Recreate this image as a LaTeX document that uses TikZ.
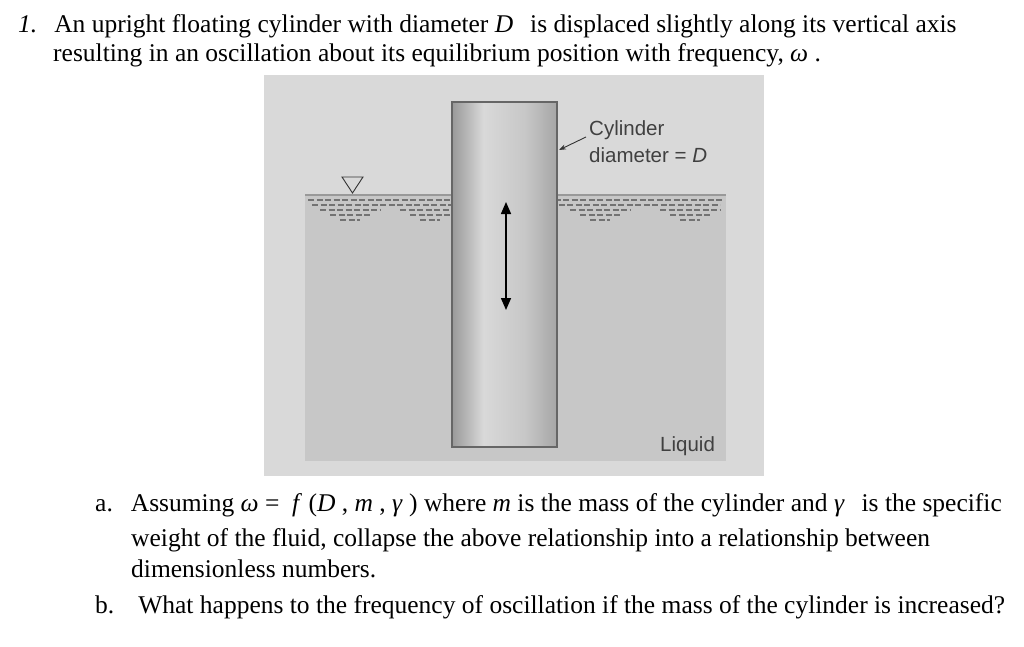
\documentclass[tikz,border=0pt]{standalone}
\usepackage{fontspec}
\setmainfont{Liberation Serif}
\newfontfamily\labfont{Liberation Sans}
\usetikzlibrary{arrows.meta}
\pgfdeclarehorizontalshading{cyl}{100bp}{color(0bp)=(black!45); color(25bp)=(black!40); color(40bp)=(black!15); color(60bp)=(black!22); color(75bp)=(black!35); color(100bp)=(black!50)}
\tikzset{
 qtext/.style={anchor=base west, inner sep=0pt, font=\fontsize{25.5}{28}\selectfont},
 lab/.style={anchor=base west, inner sep=0pt, font=\labfont\fontsize{20.5}{23}\selectfont, text=black!75},
 dsh/.style={black!55, line width=1.3pt, dash pattern=on 6pt off 2.5pt}
}
\begin{document}
\begin{tikzpicture}[x=1pt,y=-1pt]
\useasboundingbox (0,0) rectangle (1024,647);
\fill[white] (0,0) rectangle (1024,647);
% panel
\fill[black!15] (264,75) rectangle (764,476);
\fill[black!22] (305,195) rectangle (726,461);
\draw[black!40, line width=1.2pt] (305,195) -- (726,195);
% dashes
\foreach \y/\a/\b in {200/308/724, 205/312/720}{\draw[dsh] (\a,\y) -- (\b,\y);}
\foreach \c in {350,430,600,690}{
 \draw[dsh] (\c-30,210) -- (\c+30,210);
 \draw[dsh] (\c-20,215) -- (\c+20,215);
 \draw[dsh] (\c-10,220) -- (\c+10,220);}
% free surface symbol
\draw[black!80, line width=0.9pt] (342,177) -- (363,177) -- (352.5,193) -- cycle;
% cylinder
\shade[shading=cyl] (452,102) rectangle (557,447);
\draw[black!60, line width=1.5pt] (452,102) rectangle (557,447);
\node (cyl) at (504.5,274.5) [minimum width=105pt, minimum height=345pt, inner sep=0pt] {};
\coordinate (up) at (506,202);
\coordinate (dn) at (506,310);
\draw[line width=1.5pt, {Triangle[length=12pt,width=10pt]}-{Triangle[length=12pt,width=10pt]}] (up) -- (dn);
% labels
\node[lab] (c1) at (589,136) {Cylinder};
\node[lab] (c2) at (589,163) {diameter = \textit{D}};
\node[lab] (liq) at (660,451) {Liquid};
\coordinate (tip) at (559,150);
\draw[black!80, line width=0.9pt, -{Stealth[length=7pt,width=5pt]}] (586,137) -- (tip);
% text
\node[qtext] (t1) at (18,33) {\textit{1.}\hspace{17pt}An upright floating cylinder with diameter \textit{D}\ \, is displaced slightly along its vertical axis};
\node[qtext] (t2) at (53,62) {resulting in an oscillation about its equilibrium position with frequency, \textit{ω} .};
\node[qtext] (a1) at (95,511) {a.\hspace{18pt}Assuming \textit{ω} = \textit{ f} (\textit{D} , \textit{m} , \textit{γ} ) where \textit{m} is the mass of the cylinder and \textit{γ}\ \, is the specific};
\node[qtext] (a2) at (131,546) {weight of the fluid, collapse the above relationship into a relationship between};
\node[qtext] (a3) at (131,577) {dimensionless numbers.};
\node[qtext] (b1) at (95,613) {b.\hspace{24pt}What happens to the frequency of oscillation if the mass of the cylinder is increased?};
\end{tikzpicture}
\end{document}
